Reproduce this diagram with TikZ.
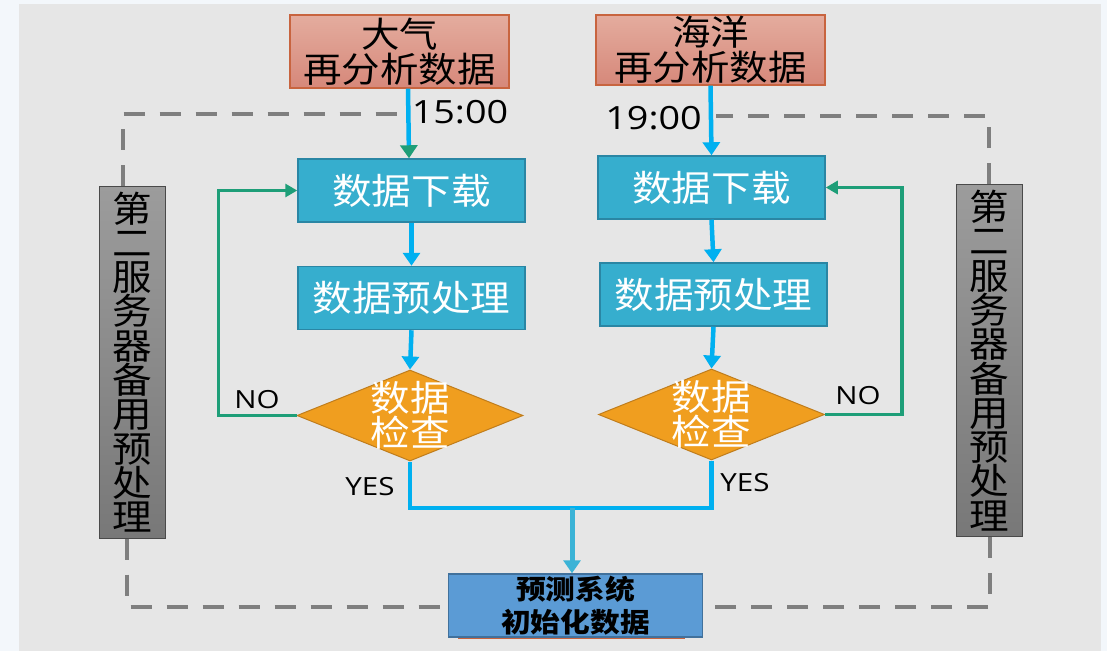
\documentclass[tikz,border=0pt]{standalone}
\usepackage{fontspec}
\setmainfont{Noto Sans CJK SC}[FakeStretch=1.1]
\newfontfamily\latinfont{Open Sans}[FakeStretch=1.18]
\usetikzlibrary{arrows.meta,shapes.geometric}
\definecolor{outerbg}{HTML}{F3F7FB}
\definecolor{panel}{HTML}{E6E6E6}
\definecolor{tophi}{HTML}{E4AC9E}
\definecolor{toplo}{HTML}{D6887A}
\definecolor{topborder}{HTML}{C8643F}
\definecolor{boxblue}{HTML}{36AECE}
\definecolor{blueborder}{HTML}{2A86A4}
\definecolor{diafill}{HTML}{F09E1F}
\definecolor{diaborder}{HTML}{C07D1C}
\definecolor{grayhi}{HTML}{9C9C9C}
\definecolor{graylo}{HTML}{787878}
\definecolor{grayborder}{HTML}{4A4A4A}
\definecolor{botfill}{HTML}{5B9BD5}
\definecolor{botborder}{HTML}{41719C}
\definecolor{flowblue}{HTML}{00B0F0}
\definecolor{joinblue}{HTML}{3BB3D6}
\definecolor{nogreen}{HTML}{1E9E78}
\definecolor{dashgray}{HTML}{7F7F7F}
\definecolor{orangeline}{HTML}{C8643F}
\tikzset{
  topbox/.style={draw=topborder, line width=1.2pt, top color=tophi, bottom color=toplo,
    inner sep=0pt, align=center, font=\fontsize{35}{35}\selectfont},
  bluebox/.style={draw=blueborder, line width=1.5pt, fill=boxblue, text=white,
    minimum width=227pt, minimum height=63pt, inner sep=0pt, font=\fontsize{36}{36}\selectfont},
  chk/.style={diamond, draw=diaborder, line width=1pt, fill=diafill,
    minimum width=226pt, minimum height=91pt, inner sep=0pt},
  chktext/.style={text=white, align=center, inner sep=0pt, font=\fontsize{36}{35}\selectfont},
  graybox/.style={draw=grayborder, line width=1pt, top color=grayhi, bottom color=graylo,
    minimum width=66pt, minimum height=352pt, inner sep=0pt, align=center,
    font=\fontsize{36}{34.3}\selectfont},
  botbox/.style={draw=botborder, line width=1.5pt, fill=botfill, minimum width=254pt,
    minimum height=63pt, inner sep=0pt, align=center, font=\fontsize{27}{33}\selectfont\bfseries},
  flow/.style={draw=flowblue, line width=4.5pt, -{Triangle[length=13pt,width=17pt]}},
  yesline/.style={draw=flowblue, line width=4.5pt},
  noline/.style={draw=nogreen, line width=3.5pt, -{Triangle[length=12pt,width=13pt]}},
  dashline/.style={draw=dashgray, line width=4pt, dash pattern=on 21pt off 15pt},
  lbl/.style={inner sep=0pt, font=\latinfont\fontsize{25}{25}\selectfont},
  timelbl/.style={inner sep=0pt, font=\latinfont\fontsize{32}{32}\selectfont}
}
\begin{document}
\begin{tikzpicture}[x=1pt,y=-1pt]
\useasboundingbox (0,0) rectangle (1107,651);
\fill[outerbg] (0,0) rectangle (1107,651);
\fill[panel] (19,4) rectangle (1101,651);

% top data sources
\node[topbox, minimum width=219pt, minimum height=73pt] (top1) at (399.5,51.5) {大气\\再分析数据};
\node[topbox, minimum width=229pt, minimum height=70pt] (top2) at (710.5,50) {海洋\\再分析数据};

% blue boxes
\node[bluebox] (dl1) at (411.5,190.5) {数据下载};
\node[bluebox] (pp1) at (411.5,298) {数据预处理};
\node[bluebox] (dl2) at (711.5,187.5) {数据下载};
\node[bluebox] (pp2) at (713.5,294.5) {数据预处理};

% diamonds
\node[chk] (chk1) at (410,415.5) {};
\node[chktext] (chk1t) at (chk1) {数据\\检查};
\node[chk] (chk2) at (711.5,414.5) {};
\node[chktext] (chk2t) at (chk2) {数据\\检查};

% gray side boxes
\node[graybox] (lgray) at (132,362) {第\\二\\服\\务\\器\\备\\用\\预\\处\\理};
\node[graybox] (rgray) at (989,360.5) {第\\二\\服\\务\\器\\备\\用\\预\\处\\理};

% dashed backup route
\coordinate (tl) at (400,114);
\coordinate (tr) at (716,116);
\draw[dashline] ([xshift=-9pt]lgray.north) |- (tl);
\draw[dashline] (rgray.north) |- (tr);
\draw[dashline] ([xshift=-5pt]lgray.south) |- (443,607);
\draw[dashline] ([xshift=1pt]rgray.south) |- (707,607);

% bottom box
\draw[orangeline, line width=1.5pt] (458,638) -- (685,638);
\node[botbox] (bot) at (575.5,605.5) {预测系统\\初始化数据};

% time labels
\node[timelbl] (t1) at (460,112.5) {15:00};
\node[timelbl] (t2) at (653.5,118.5) {19:00};

% flow arrows
\draw[flow, -{Triangle[length=13pt,width=17pt,color=nogreen]}] ([xshift=8.5pt]top1.south) -- ([xshift=-2.5pt]dl1.north);
\draw[flow] (top2.south) -- (dl2.north);
\draw[flow] (dl1.south) -- (pp1.north);
\draw[flow] (pp1.south) -- (chk1.north);
\draw[flow] (dl2.south) -- (pp2.north);
\draw[flow] (pp2.south) -- (chk2.north);

% NO loops
\draw[noline] (chk1.west) -- ++(-78pt,0) |- (dl1.west);
\draw[noline] (chk2.east) -- ++(77pt,0) |- (dl2.east);
\node[lbl] (no1) at (257,400) {NO};
\node[lbl] (no2) at (858,396) {NO};

% YES join
\coordinate (join) at (572,508);
\draw[yesline] (chk1.south) |- (join);
\draw[yesline] (chk2.south) |- (join);
\draw[draw=joinblue, line width=5pt, -{Triangle[length=13pt,width=17pt]}] (join) -- (join |- bot.north);
\node[lbl] (yes1) at (370,487) {YES};
\node[lbl] (yes2) at (745,483) {YES};
\end{tikzpicture}
\end{document}
